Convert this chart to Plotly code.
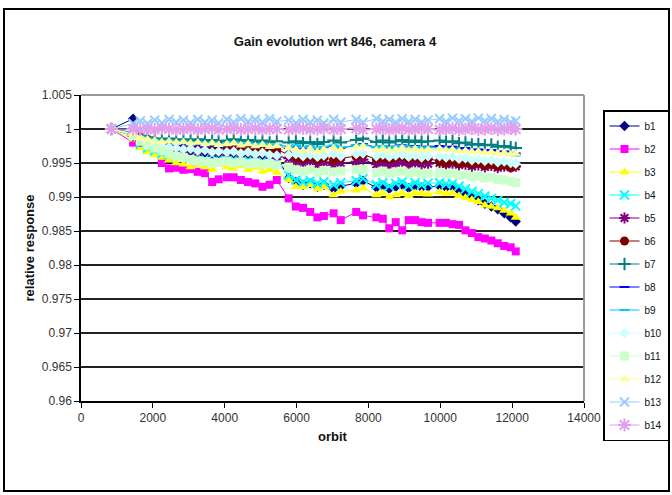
import plotly.graph_objects as go

orbits = [846, 1450,
          1650, 1850, 2050, 2250, 2450, 2650, 2850, 3050, 3250, 3450, 3650, 3830,
          4060, 4250, 4450, 4650, 4850, 5050, 5250, 5450,
          5780, 5980, 6180, 6380, 6580, 6760, 7030, 7230,
          7660, 7850, 8220, 8400, 8580, 8760, 8940, 9120, 9300, 9480, 9660,
          9980, 10160, 10340, 10520, 10700, 10880, 11060, 11240, 11420, 11600, 11780, 11960, 12100]

b1 = [1.0, 1.0015,
      0.9985, 0.9978, 0.9975, 0.9970, 0.9972, 0.9968, 0.9970, 0.9966, 0.9968, 0.9965, 0.9966, 0.9963,
      0.9966, 0.9964, 0.9967, 0.9963, 0.9965, 0.9962, 0.9966, 0.9960,
      0.9928, 0.9922, 0.9918, 0.9920, 0.9915, 0.9918, 0.9912, 0.9916,
      0.9920, 0.9924, 0.9914, 0.9917, 0.9912, 0.9915, 0.9918, 0.9913, 0.9916, 0.9914, 0.9915,
      0.9916, 0.9914, 0.9915, 0.9910, 0.9905, 0.9900, 0.9895, 0.9890, 0.9886, 0.9882, 0.9876, 0.9870, 0.9864]
b2 = [1.0, 0.998,
      0.9975, 0.9970, 0.9965, 0.9950, 0.9942, 0.9943, 0.9940, 0.9941, 0.9937, 0.9935, 0.9922, 0.9926,
      0.9929, 0.9929, 0.9925, 0.9922, 0.9920, 0.9915, 0.9918, 0.9925,
      0.9898, 0.9886, 0.9884, 0.9878, 0.9870, 0.9872, 0.9876, 0.9866,
      0.9878, 0.9873, 0.9870, 0.9868, 0.9854, 0.9863, 0.9851, 0.9866, 0.9866, 0.9863, 0.9862,
      0.9862, 0.9862, 0.9860, 0.9859, 0.9851, 0.9847, 0.9841, 0.9839, 0.9836, 0.9832, 0.9828, 0.9826, 0.9820]
b3 = [1.0, 0.9985,
      0.9972, 0.9966, 0.9962, 0.9958, 0.9954, 0.9950, 0.9948, 0.9944, 0.9947, 0.9944, 0.9940, 0.9948,
      0.9944, 0.9942, 0.9946, 0.9940, 0.9944, 0.9938, 0.9940, 0.9936,
      0.9925, 0.9915, 0.9915, 0.9918, 0.9912, 0.9915, 0.9903, 0.9908,
      0.9910, 0.9913, 0.9903, 0.9906, 0.9900, 0.9903, 0.9906, 0.9902, 0.9906, 0.9906, 0.9904,
      0.9907, 0.9905, 0.9906, 0.9902, 0.9899, 0.9896, 0.9893, 0.9888, 0.9886, 0.9884, 0.9880, 0.9876, 0.9870]
b4 = [1.0, 0.9990,
      0.9978, 0.9972, 0.9968, 0.9964, 0.9962, 0.9960, 0.9962, 0.9958, 0.9960, 0.9956, 0.9958, 0.9955,
      0.9958, 0.9955, 0.9957, 0.9954, 0.9956, 0.9952, 0.9955, 0.9950,
      0.9932, 0.9925, 0.9922, 0.9924, 0.9920, 0.9922, 0.9918, 0.9921,
      0.9924, 0.9927, 0.9918, 0.9921, 0.9916, 0.9920, 0.9922, 0.9917, 0.9921, 0.9918, 0.9920,
      0.9921, 0.9919, 0.9920, 0.9916, 0.9912, 0.9908, 0.9905, 0.9901, 0.9898, 0.9895, 0.9892, 0.9890, 0.9887]
b5 = [1.0, 0.9990,
      0.9982, 0.9978, 0.9975, 0.9972, 0.9970, 0.9971, 0.9968, 0.9970, 0.9966, 0.9969, 0.9965, 0.9967,
      0.9966, 0.9968, 0.9964, 0.9967, 0.9963, 0.9966, 0.9962, 0.9960,
      0.9957, 0.9952, 0.9950, 0.9953, 0.9948, 0.9951, 0.9947, 0.9950,
      0.9952, 0.9955, 0.9948, 0.9950, 0.9946, 0.9949, 0.9951, 0.9947, 0.9950, 0.9948, 0.9949,
      0.9950, 0.9948, 0.9949, 0.9947, 0.9948, 0.9945, 0.9947, 0.9944, 0.9946, 0.9943, 0.9945, 0.9944, 0.9945]
b6 = [1.0, 0.9993,
      0.9988, 0.9985, 0.9982, 0.9980, 0.9978, 0.9979, 0.9976, 0.9978, 0.9975, 0.9977, 0.9974, 0.9976,
      0.9975, 0.9977, 0.9973, 0.9975, 0.9972, 0.9974, 0.9971, 0.9970,
      0.9962, 0.9958, 0.9956, 0.9959, 0.9955, 0.9958, 0.9954, 0.9957,
      0.9960, 0.9962, 0.9956, 0.9958, 0.9955, 0.9958, 0.9960, 0.9956, 0.9958, 0.9955, 0.9957,
      0.9952, 0.9950, 0.9953, 0.9949, 0.9951, 0.9948, 0.9950, 0.9946, 0.9948, 0.9945, 0.9947, 0.9943, 0.9946]
b7 = [1.0, 0.9995,
      0.9990, 0.9988, 0.9986, 0.9985, 0.9986, 0.9984, 0.9985, 0.9983, 0.9985, 0.9982, 0.9984, 0.9982,
      0.9983, 0.9985, 0.9982, 0.9984, 0.9981, 0.9983, 0.9980, 0.9982,
      0.9980, 0.9982, 0.9979, 0.9981, 0.9978, 0.9981, 0.9983, 0.9980,
      0.9984, 0.9986, 0.9981, 0.9983, 0.9980, 0.9982, 0.9984, 0.9981, 0.9983, 0.9981, 0.9982,
      0.9983, 0.9981, 0.9982, 0.9979, 0.9980, 0.9977, 0.9978, 0.9976, 0.9977, 0.9974, 0.9975, 0.9973, 0.9972]
b8 = [1.0, 0.9992,
      0.9986, 0.9982, 0.9980, 0.9978, 0.9979, 0.9976, 0.9978, 0.9975, 0.9977, 0.9974, 0.9976, 0.9974,
      0.9976, 0.9978, 0.9975, 0.9977, 0.9974, 0.9976, 0.9973, 0.9975,
      0.9972, 0.9975, 0.9971, 0.9974, 0.9970, 0.9973, 0.9975, 0.9972,
      0.9976, 0.9978, 0.9973, 0.9975, 0.9972, 0.9974, 0.9976, 0.9973, 0.9975, 0.9972, 0.9974,
      0.9975, 0.9973, 0.9974, 0.9971, 0.9972, 0.9969, 0.9970, 0.9968, 0.9969, 0.9966, 0.9967, 0.9965, 0.9964]
b9 = [1.0, 0.9994,
      0.9989, 0.9986, 0.9984, 0.9982, 0.9983, 0.9981, 0.9982, 0.9980, 0.9981, 0.9979, 0.9980, 0.9978,
      0.9979, 0.9981, 0.9978, 0.9980, 0.9977, 0.9979, 0.9976, 0.9977,
      0.9974, 0.9976, 0.9973, 0.9975, 0.9972, 0.9974, 0.9976, 0.9973,
      0.9976, 0.9977, 0.9973, 0.9975, 0.9972, 0.9974, 0.9975, 0.9972, 0.9974, 0.9972, 0.9973,
      0.9972, 0.9970, 0.9971, 0.9968, 0.9969, 0.9966, 0.9967, 0.9965, 0.9966, 0.9963, 0.9964, 0.9962, 0.9961]
b10 = [1.0, 0.9992,
       0.9986, 0.9982, 0.9978, 0.9975, 0.9973, 0.9972, 0.9970, 0.9971, 0.9968, 0.9969, 0.9966, 0.9967,
       0.9966, 0.9967, 0.9964, 0.9966, 0.9963, 0.9965, 0.9962, 0.9961,
       0.9962, 0.9963, 0.9960, 0.9962, 0.9959, 0.9961, 0.9963, 0.9960,
       0.9963, 0.9964, 0.9960, 0.9962, 0.9959, 0.9961, 0.9962, 0.9959, 0.9961, 0.9958, 0.9960,
       0.9960, 0.9958, 0.9959, 0.9956, 0.9957, 0.9954, 0.9955, 0.9953, 0.9954, 0.9951, 0.9952, 0.9950, 0.9949]
b11 = [1.0, 0.9990,
       0.9982, 0.9976, 0.9972, 0.9968, 0.9964, 0.9960, 0.9958, 0.9955, 0.9953, 0.9952, 0.9950, 0.9951,
       0.9952, 0.9950, 0.9951, 0.9949, 0.9950, 0.9948, 0.9949, 0.9947,
       0.9944, 0.9940, 0.9938, 0.9940, 0.9936, 0.9939, 0.9937, 0.9938,
       0.9940, 0.9941, 0.9936, 0.9938, 0.9935, 0.9937, 0.9938, 0.9935, 0.9937, 0.9934, 0.9935,
       0.9936, 0.9934, 0.9935, 0.9932, 0.9933, 0.9930, 0.9931, 0.9928, 0.9929, 0.9926, 0.9925, 0.9923, 0.9921]
b12 = [1.0, 0.9993,
       0.9987, 0.9985, 0.9983, 0.9981, 0.9982, 0.9980, 0.9981, 0.9979, 0.9980, 0.9978, 0.9979, 0.9977,
       0.9978, 0.9979, 0.9976, 0.9978, 0.9975, 0.9977, 0.9974, 0.9975,
       0.9972, 0.9970, 0.9968, 0.9971, 0.9967, 0.9970, 0.9972, 0.9969,
       0.9973, 0.9975, 0.9969, 0.9971, 0.9968, 0.9970, 0.9972, 0.9969, 0.9971, 0.9968, 0.9970,
       0.9971, 0.9969, 0.9970, 0.9967, 0.9968, 0.9966, 0.9967, 0.9965, 0.9966, 0.9964, 0.9965, 0.9963, 0.9964]
b13 = [1.0, 1.0008,
       1.0012, 1.0008, 1.0013, 1.0009, 1.0014, 1.0010, 1.0013, 1.0009, 1.0014, 1.0010, 1.0013, 1.0009,
       1.0014, 1.0010, 1.0015, 1.0011, 1.0014, 1.0010, 1.0015, 1.0011,
       1.0013, 1.0009, 1.0014, 1.0010, 1.0013, 1.0009, 1.0014, 1.0010,
       1.0014, 1.0010, 1.0015, 1.0011, 1.0014, 1.0010, 1.0015, 1.0011, 1.0014, 1.0010, 1.0013,
       1.0015, 1.0011, 1.0016, 1.0012, 1.0015, 1.0011, 1.0016, 1.0012, 1.0015, 1.0011, 1.0014, 1.0010, 1.0012]
b14 = [1.0, 1.0,
       0.9999, 1.0000, 0.9999, 1.0001, 1.0000, 0.9999, 1.0000, 1.0001, 0.9999, 1.0000, 1.0001, 0.9999,
       1.0000, 1.0001, 0.9999, 1.0000, 1.0001, 0.9999, 1.0000, 1.0000,
       0.9999, 1.0000, 1.0001, 0.9999, 1.0000, 1.0001, 0.9999, 1.0000,
       1.0001, 0.9999, 1.0000, 1.0001, 0.9999, 1.0000, 1.0001, 0.9999, 1.0000, 1.0001, 1.0000,
       0.9999, 1.0000, 1.0001, 0.9999, 1.0000, 1.0001, 0.9999, 1.0000, 1.0001, 0.9999, 1.0000, 1.0001, 1.0000]

names = ["b1", "b2", "b3", "b4", "b5", "b6", "b7", "b8", "b9", "b10", "b11", "b12", "b13", "b14"]
series = [b1, b2, b3, b4, b5, b6, b7, b8, b9, b10, b11, b12, b13, b14]
colors = ["#000080", "#FF00FF", "#FFFF00", "#00FFFF", "#800080", "#800000", "#008080",
          "#0000FF", "#00CCFF", "#CCFFFF", "#CCFFCC", "#FFFF99", "#99CCFF", "#E0A0EE"]
symbols = ["diamond", "square", "triangle-up", "x-thin-open", "asterisk-open", "circle",
           "cross-thin-open", "line-ew-open", "line-ew-open", "diamond", "square",
           "triangle-up", "x-thin-open", "asterisk-open"]
sizes = [8, 8, 9, 9, 9, 9, 9, 7, 7, 8, 9, 9, 9, 11]
xticks = [0, 2000, 4000, 6000, 8000, 10000, 12000, 14000]
yticks = [0.96, 0.965, 0.97, 0.975, 0.98, 0.985, 0.99, 0.995, 1.0, 1.005]
ytick_text = ["0.96", "0.965", "0.97", "0.975", "0.98", "0.985", "0.99", "0.995", "1", "1.005"]

FONT = "Liberation Sans Narrow, Liberation Sans, Arial, sans-serif"

fig = go.Figure()
for i, (nm, ys) in enumerate(zip(names, series)):
    sym = symbols[i]
    thin = sym.endswith("-open")
    fig.add_trace(go.Scatter(
        x=orbits, y=ys, name=nm, mode="lines+markers", legendgroup=nm,
        line=dict(color=colors[i], width=1),
        marker=dict(symbol=sym, size=sizes[i], color=colors[i],
                    line=dict(color=colors[i], width=2 if thin else 0)),
    ))

fig.update_layout(
    width=672, height=495,
    margin=dict(l=81, r=88, t=95, b=94, autoexpand=False),
    paper_bgcolor="white", plot_bgcolor="white",
    font=dict(family=FONT, color="#222", size=12),
    title=dict(text="<b>Gain evolution wrt 846, camera 4</b>", x=335 / 672, xanchor="center",
               y=1 - 41 / 495, yanchor="middle",
               font=dict(family=FONT, size=13, color="#111")),
    xaxis=dict(range=[0, 14000], tickvals=xticks, ticktext=[str(v) for v in xticks],
               showgrid=False, zeroline=False, showline=True, linecolor="black", linewidth=1.5,
               ticks="outside", ticklen=5, tickcolor="black",
               tickfont=dict(size=12, color="#333"),
               title=dict(text="<b>orbit</b>", font=dict(size=13, color="#111"), standoff=8)),
    yaxis=dict(range=[0.96, 1.005], tickvals=yticks, ticktext=ytick_text,
               showgrid=True, gridcolor="#222", gridwidth=2, zeroline=False,
               showline=True, linecolor="black", linewidth=1.5,
               ticks="outside", ticklen=5, tickcolor="black",
               tickfont=dict(size=12, color="#333"),
               title=dict(text="<b>relative response</b>", font=dict(size=13, color="#111"), standoff=4)),
    legend=dict(x=(603 - 81) / 503, y=(401 - 110) / 306, xanchor="left", yanchor="top",
                bgcolor="white", bordercolor="black", borderwidth=1.5,
                font=dict(family=FONT, size=10, color="#111"),
                tracegroupgap=4, itemwidth=30, maxheight=340),
    showlegend=True,
)

# gray frame on top/right of plot area (Excel style)
fig.add_shape(type="line", xref="paper", yref="paper", x0=0, x1=1, y0=1, y1=1,
              line=dict(color="#999", width=2), layer="above")
fig.add_shape(type="line", xref="paper", yref="paper", x0=1, x1=1, y0=0, y1=1,
              line=dict(color="#999", width=2), layer="above")
# outer chart border
fig.add_shape(type="rect", xref="paper", yref="paper",
              x0=(4 - 81) / 503, x1=(669 - 81) / 503, y0=(401 - 491) / 306, y1=(401 - 9) / 306,
              line=dict(color="black", width=2), layer="above")

fig.write_html("out.html")
